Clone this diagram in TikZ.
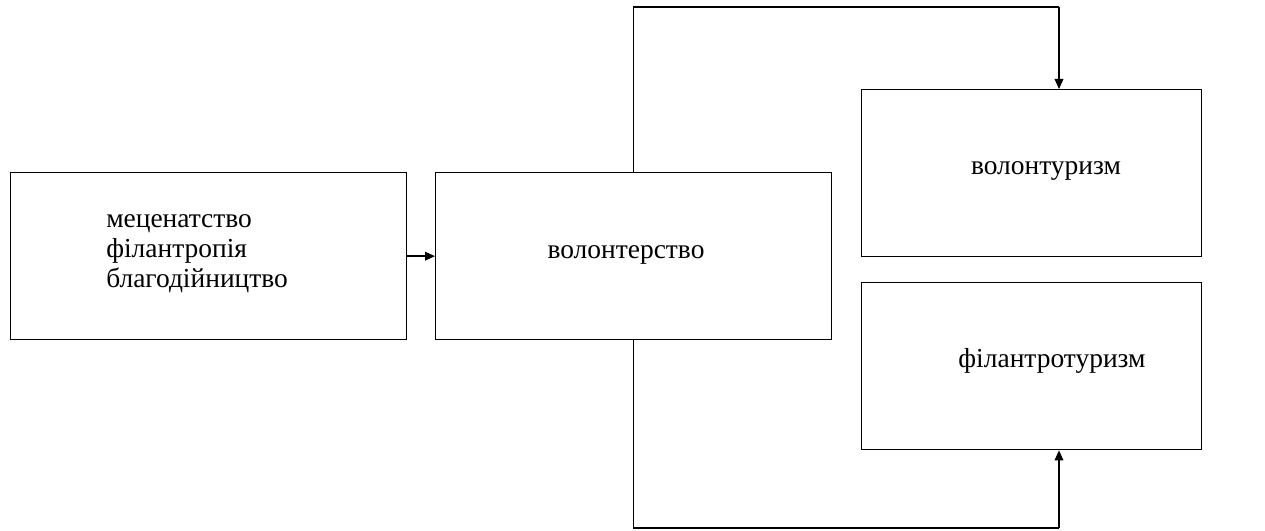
\documentclass[tikz,border=0pt]{standalone}
\usepackage{fontspec}
\setmainfont{Liberation Serif}
\usetikzlibrary{arrows.meta}
\begin{document}
\begin{tikzpicture}[x=0.75pt,y=-0.75pt,
  box/.style={draw,line width=1pt,inner sep=0pt,anchor=north west},
  lbl/.style={inner sep=0pt,font=\fontsize{20.6pt}{22pt}\selectfont},
  arr/.style={line width=1pt,-{Triangle[length=7.5pt,width=6.5pt]}},
  ln/.style={line width=1pt}]
\useasboundingbox (0,0) rectangle (1265,531);
\node[box,minimum width=297pt,minimum height=125.25pt] (b1) at (10,172) {};
\node[box,minimum width=297pt,minimum height=125.25pt] (b2) at (435,172) {};
\node[box,minimum width=255pt,minimum height=125.25pt] (b3) at (861,89) {};
\node[box,minimum width=255pt,minimum height=125.25pt] (b4) at (861,282) {};
\node[lbl,anchor=base west] (t1) at (106,228) {меценатство};
\node[lbl,anchor=base west] (t2) at (106,258) {філантропія};
\node[lbl,anchor=base west] (t3) at (106,288) {благодійництво};
\node[lbl,anchor=base] (t4) at (626,259) {волонтерство};
\node[lbl,anchor=base] (t5) at (1046,175) {волонтуризм};
\node[lbl,anchor=base] (t6) at (1052,367) {філантротуризм};
\coordinate (ct) at (1059,7);
\coordinate (cb) at (1059,528);
\draw[arr] (b1.east) -- (b2.west);
\draw[ln] (b2.north) |- (ct);
\draw[arr] (ct) -- (ct |- b3.north);
\draw[ln] (b2.south) |- (cb);
\draw[arr] (cb) -- (cb |- b4.south);
\end{tikzpicture}
\end{document}
